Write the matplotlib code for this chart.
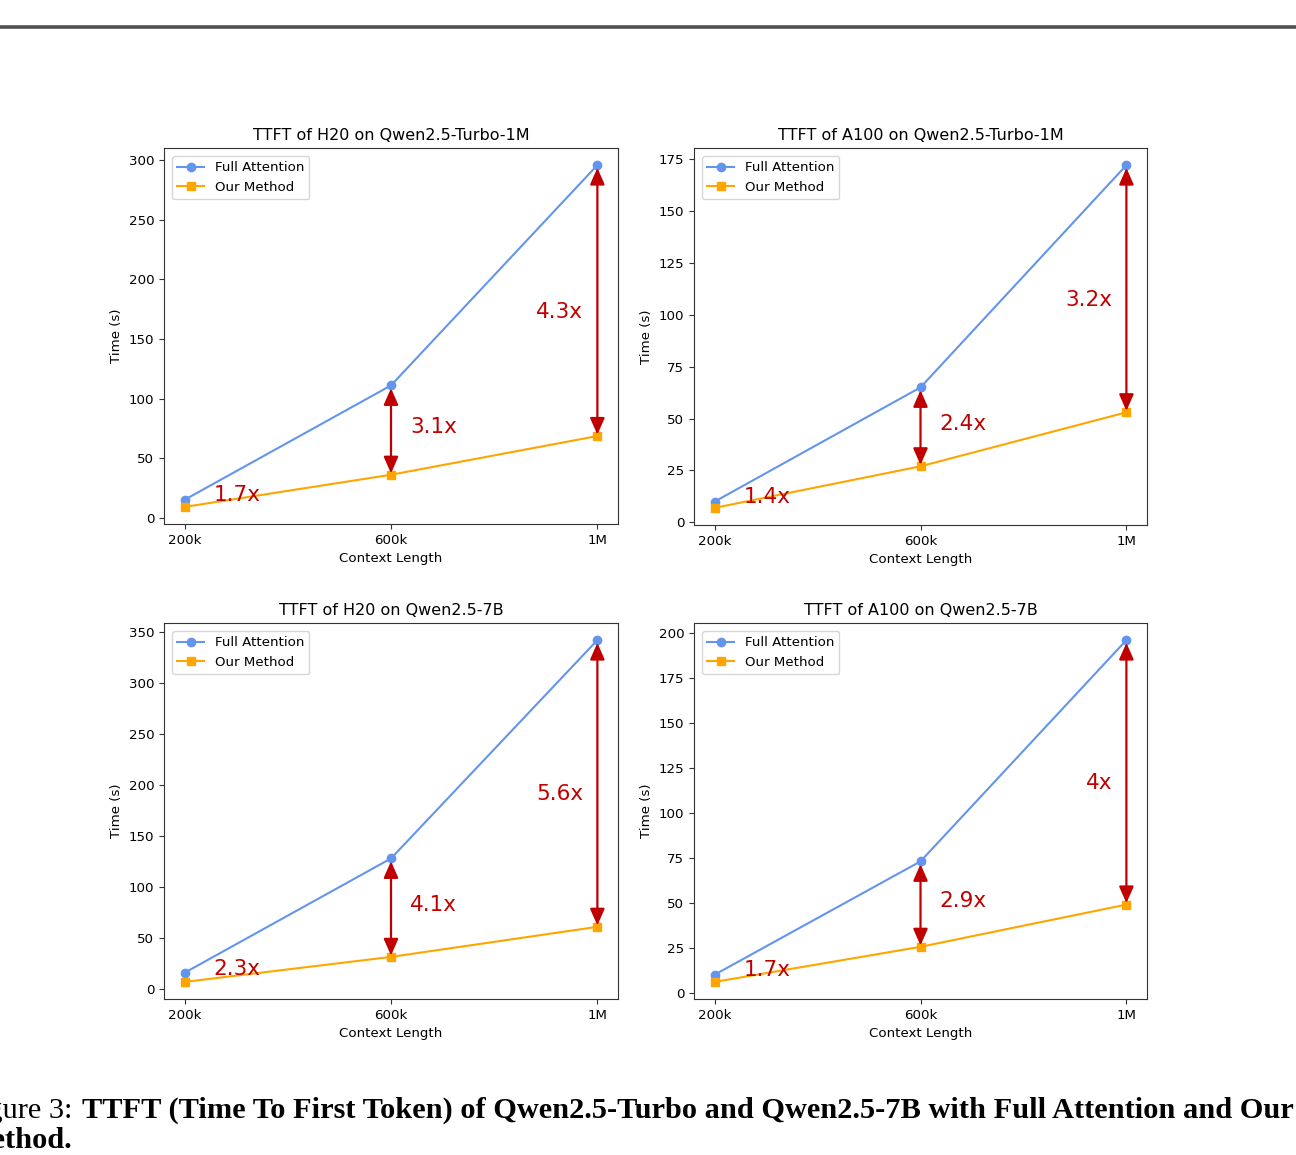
import matplotlib
matplotlib.use('Agg')
import matplotlib.pyplot as plt

# context lengths (k tokens)
context = [200, 600, 1000]
tick_labels = ['200k', '600k', '1M']

titles = [
    'TTFT of H20 on Qwen2.5-Turbo-1M',
    'TTFT of A100 on Qwen2.5-Turbo-1M',
    'TTFT of H20 on Qwen2.5-7B',
    'TTFT of A100 on Qwen2.5-7B',
]

full_attention = [
    [15, 111, 296],
    [10, 65, 172],
    [16, 128, 342],
    [10, 73, 196],
]
our_method = [
    [9, 36, 68.5],
    [7, 27, 53],
    [7, 31.5, 61],
    [6, 25.5, 49],
]
speedups = [
    ['1.7x', '3.1x', '4.3x'],
    ['1.4x', '2.4x', '3.2x'],
    ['2.3x', '4.1x', '5.6x'],
    ['1.7x', '2.9x', '4x'],
]

W, H = 1296, 1155
DPI = 100
RED = '#c00000'

fig = plt.figure(figsize=(W / DPI, H / DPI), dpi=DPI)

# axes boxes in pixels: left, top, right, bottom
boxes = [
    (164, 148, 618, 524),
    (694, 148, 1147, 525),
    (164, 623, 618, 999),
    (694, 623, 1147, 999),
]

for i, (l, t, r, b) in enumerate(boxes):
    ax = fig.add_axes([l / W, (H - b) / H, (r - l) / W, (b - t) / H])
    fa = full_attention[i]
    om = our_method[i]
    ax.plot(context, fa, color='cornflowerblue', marker='o', markersize=6,
            label='Full Attention')
    ax.plot(context, om, color='orange', marker='s', markersize=6,
            label='Our Method')
    ax.set_xticks(context)
    ax.set_xticklabels(tick_labels)
    ax.tick_params(labelsize=9.6, color='#333333')
    for sp in ax.spines.values():
        sp.set_color('#333333')
    ax.set_title(titles[i], fontsize=11.5)
    ax.set_xlabel('Context Length', fontsize=9.6)
    ax.set_ylabel('Time (s)', fontsize=9.6)
    ax.legend(loc='upper left', fontsize=9.6, borderaxespad=0.6)

    for j, x in enumerate(context):
        mid = (fa[j] + om[j]) / 2
        if j == 0:
            ax.annotate(speedups[i][j], xy=(x, mid), xytext=(29, 8),
                        textcoords='offset pixels', ha='left', va='center',
                        color=RED, fontsize=15.5, zorder=5)
            continue
        ax.annotate('', xy=(x, om[j]), xytext=(x, fa[j]),
                    arrowprops=dict(arrowstyle='<|-|>,head_length=0.5,head_width=0.22',
                                    mutation_scale=20, color=RED, lw=1.6,
                                    shrinkA=2, shrinkB=1),
                    zorder=4)
        if j == 1:
            ax.annotate(speedups[i][j], xy=(x, mid), xytext=(19, 3),
                        textcoords='offset pixels', ha='left', va='center',
                        color=RED, fontsize=15.5, zorder=5)
        else:
            ax.annotate(speedups[i][j], xy=(x, mid), xytext=(-14, -11),
                        textcoords='offset pixels', ha='right', va='center',
                        color=RED, fontsize=15.5, zorder=5)

# page rule at the top
fig.add_artist(plt.Line2D([0, 1], [1 - 27 / H, 1 - 27 / H], color='#505050',
                          lw=2.6, transform=fig.transFigure))

# caption (cut at the page edges like the screenshot)
cap_font = 'Liberation Serif'
fig.text(72 / W, 1 - 1118 / H, 'Figure 3:', ha='right', va='baseline',
         fontsize=21.9, family=cap_font)
fig.text(82 / W, 1 - 1118 / H,
         'TTFT (Time To First Token) of Qwen2.5-Turbo and Qwen2.5-7B with Full Attention and Our',
         ha='left', va='baseline', fontsize=21.9, family=cap_font, weight='bold')
fig.text(72 / W, 1 - 1148 / H, 'Method.', ha='right', va='baseline',
         fontsize=21.9, family=cap_font, weight='bold')

fig.savefig('out.png', dpi=DPI)
